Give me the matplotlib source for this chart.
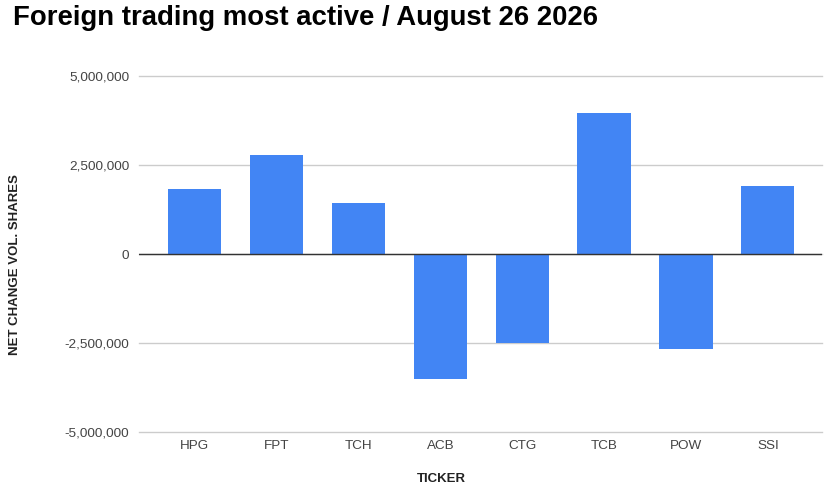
import numpy as np
import matplotlib.pyplot as plt
from matplotlib.ticker import FuncFormatter

plt.rcParams['font.family'] = ['Liberation Sans', 'DejaVu Sans']

# data
tickers = ["HPG", "FPT", "TCH", "ACB", "CTG", "TCB", "POW", "SSI"]
net_change = [1840000, 2780000, 1420000, -3500000, -2500000, 3970000, -2670000, 1900000]
y_ticks = [-5000000, -2500000, 0, 2500000, 5000000]

fig = plt.figure(figsize=(8.31, 4.86), dpi=100)
ax = fig.add_axes([0.1673, 0.1111, 0.8217, 0.7325])

x = np.arange(len(tickers))
ax.bar(x, net_change, width=0.65, color="#4285f4", zorder=3)

ax.set_xlim(-0.68, len(tickers) - 1 + 0.66)
ax.set_ylim(-5000000, 5000000)
ax.set_yticks(y_ticks)
ax.yaxis.set_major_formatter(FuncFormatter(lambda v, p: f"{int(v):,}"))
ax.grid(axis="y", color="#cccccc", linewidth=1, zorder=0)
for gl in ax.get_ygridlines():
    gl.set_clip_on(False)
ax.axhline(0, color="#333333", linewidth=1, zorder=4)

ax.set_xticks(x)
ax.set_xticklabels(tickers)
ax.tick_params(axis="both", length=0, labelsize=9.7, colors="#444444")
ax.tick_params(axis="x", pad=6)
ax.tick_params(axis="y", pad=7)

for s in ax.spines.values():
    s.set_visible(False)

# axis titles placed where the reference has them
fig.text(441 / 831, 1 - 479 / 486, "TICKER", fontsize=9.5, fontweight="bold",
         color="#222222", ha="center", va="center")
fig.text(15 / 831, 1 - 265 / 486, "NET CHANGE VOL. SHARES", fontsize=9.5,
         fontweight="bold", color="#222222", ha="center", va="center", rotation=90)

fig.text(13 / 831, 1 - 18 / 486, "Foreign trading most active / August 26 2026",
         fontsize=19.8, fontweight="bold", color="#000000", va="center", ha="left")

fig.savefig("out.png", dpi=100)
